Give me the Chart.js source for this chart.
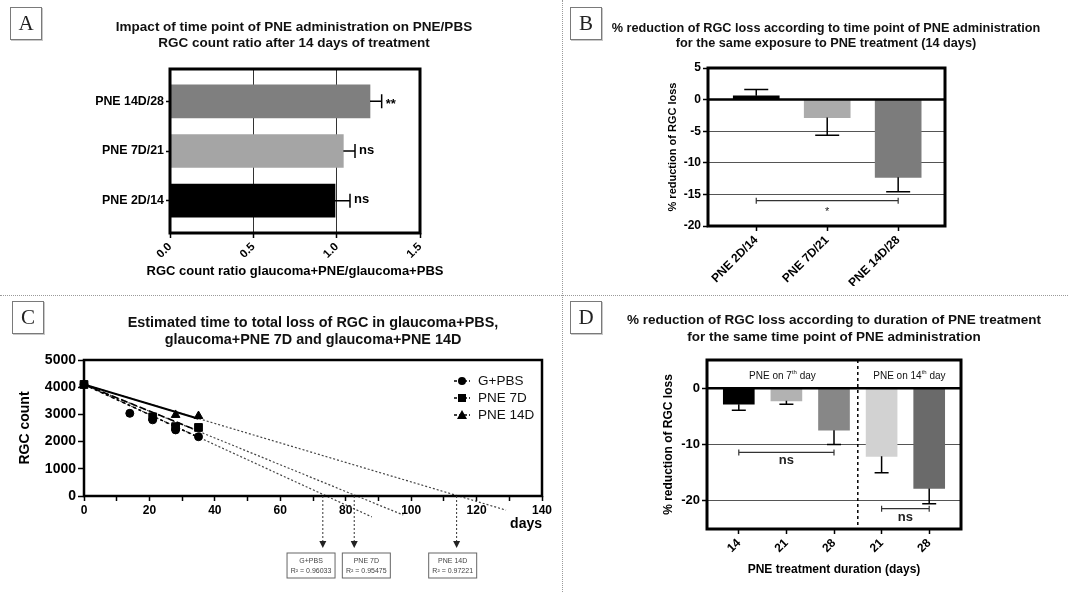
<!DOCTYPE html>
<html>
<head>
<meta charset="utf-8">
<script src="https://cdn.jsdelivr.net/npm/chart.js@4.4.1/dist/chart.umd.min.js"></script>
<style>
  html, body { margin: 0; padding: 0; background: #fff; }
  body { width: 1068px; height: 592px; position: relative; overflow: hidden; font-family: Arial, "Liberation Sans", sans-serif; }
  canvas { position: absolute; }
  .tag { position: absolute; width: 30px; height: 31px; border: 1px solid #7a7a7a; box-shadow: 1px 1px 0 #c8c8c8;
         font-family: "Times New Roman", "Liberation Serif", serif; font-size: 21px; line-height: 31px; text-align: center; color: #222; background: #fff; }
  .title { position: absolute; text-align: center; font-weight: bold; font-size: 12px; line-height: 16px; color: #111; white-space: nowrap; }
  .vsep { position: absolute; left: 562px; top: 0; height: 592px; border-left: 1px dotted #9a9a9a; }
  .hsep { position: absolute; left: 0; top: 295px; width: 1068px; border-top: 1px dotted #9a9a9a; }
</style>
</head>
<body>
<div class="vsep"></div>
<div class="hsep"></div>

<canvas id="chartA" width="562" height="294" style="left:0;top:0;width:562px;height:294px"></canvas>
<canvas id="chartB" width="505" height="294" style="left:563px;top:0;width:505px;height:294px"></canvas>
<canvas id="chartC" width="562" height="296" style="left:0;top:296px;width:562px;height:296px"></canvas>
<canvas id="chartD" width="505" height="296" style="left:563px;top:296px;width:505px;height:296px"></canvas>

<div class="tag" style="left:10px;top:7px">A</div>
<div class="tag" style="left:570px;top:7px">B</div>
<div class="tag" style="left:12px;top:301px">C</div>
<div class="tag" style="left:570px;top:301px">D</div>

<div class="title" style="left:34px;top:19px;width:520px;font-size:13.5px">Impact of time point of PNE administration on PNE/PBS<br>RGC count ratio after 14 days of treatment</div>
<div class="title" style="left:576px;top:21px;width:500px;font-size:12.7px;line-height:15px">% reduction of RGC loss according to time point of PNE administration<br>for the same exposure to PNE treatment (14 days)</div>
<div class="title" style="left:53px;top:314px;width:520px;font-size:14.4px;line-height:17px">Estimated time to total loss of RGC in glaucoma+PBS,<br>glaucoma+PNE 7D and glaucoma+PNE 14D</div>
<div class="title" style="left:589px;top:311px;width:490px;font-size:13.5px;line-height:17px">% reduction of RGC loss according to duration of PNE treatment<br>for the same time point of PNE administration</div>
<div class="title" style="left:95px;top:263px;width:400px;font-size:13px;color:#000">RGC count ratio glaucoma+PNE/glaucoma+PBS</div>

<script>
// ---- panel A: PNE/PBS ratio ----
const aCategories = ['PNE 14D/28', 'PNE 7D/21', 'PNE 2D/14'];
const aRatio = [1.20, 1.04, 0.99];
const aSem = [0.07, 0.07, 0.09];
const aSignif = ['**', 'ns', 'ns'];
const aColors = ['#7f7f7f', '#a5a5a5', '#000000'];
const aTicks = [0, 0.5, 1.0, 1.5];

// ---- panel B: reduction by time point ----
const bCategories = ['PNE 2D/14', 'PNE 7D/21', 'PNE 14D/28'];
const bReduction = [0.6, -2.85, -12.3];
const bSem = [1.0, 2.8, 2.3];
const bColors = ['#000000', '#ababab', '#7c7c7c'];
const bBracketFrom = [1];
const bBracketTo = [3];
const bBracketY = [-16];
const bBracketLabelY = [-17.3];
const bBracketLabel = ['*'];

// ---- panel C: RGC count over time ----
const gpbsDays = [0, 14, 21, 28, 35];
const gpbsCount = [4100, 3040, 2800, 2430, 2180];
const pne7Days = [0, 21, 28, 35];
const pne7Count = [4100, 2910, 2550, 2520];
const pne14Days = [0, 28, 35];
const pne14Count = [4100, 2980, 2940];
const fitDays = [0, 35];
const gpbsFit = [4100, 2160];
const pne7Fit = [4100, 2390];
const pne14Fit = [4100, 2840];
const gpbsExtDays = [0, 88];
const gpbsExt = [4100, -770];
const pne7ExtDays = [0, 97.6];
const pne7Ext = [4100, -700];
const pne14ExtDays = [0, 129];
const pne14Ext = [4100, -520];
const fitNames = ['G+PBS', 'PNE 7D', 'PNE 14D'];
const fitR2 = ['0.96033', '0.95475', '0.97221'];
const zeroDays = [73.0, 82.6, 113.9];
const boxDays = [69.4, 86.3, 112.7];

// ---- panel D: reduction by treatment duration ----
const dCategories = ['14', '21', '28', '21', '28'];
const dReduction = [-2.85, -2.25, -7.45, -12.1, -17.8];
const dSem = [1.05, 0.6, 2.55, 2.9, 2.7];
const dColors = ['#000000', '#b2b2b2', '#878787', '#d2d2d2', '#6a6a6a'];
const dGroupDay = ['7', '14'];
const dDivider = 3.5;
const dGroupLabelY = 2.1;
const dBracketFrom = [1, 4];
const dBracketTo = [3, 5];
const dBracketY = [-11.4, -21.4];
const dBracketLabelY = [-12.9, -23.0];

Chart.defaults.font.family = 'Arial, "Liberation Sans", sans-serif';
Chart.defaults.color = '#000';

const boldFont = size => ({ size: size, weight: 'bold' });
const none = 'rgba(0,0,0,0)';

function drawFrame(chart, width) {
  const { ctx, chartArea: a } = chart;
  ctx.save();
  ctx.strokeStyle = '#000';
  ctx.lineWidth = width;
  ctx.strokeRect(a.left, a.top, a.right - a.left, a.bottom - a.top);
  ctx.restore();
}

function drawZeroLine(chart) {
  const { ctx, chartArea: a } = chart;
  const y = chart.scales.y.getPixelForValue(0);
  ctx.save();
  ctx.strokeStyle = '#000';
  ctx.lineWidth = 2.5;
  ctx.beginPath();
  ctx.moveTo(a.left, y);
  ctx.lineTo(a.right, y);
  ctx.stroke();
  ctx.restore();
}

// error bar goes away from zero, with a cap at the end
function drawErrorBars(chart, values, errors, cap) {
  const ctx = chart.ctx;
  const horiz = chart.options.indexAxis === 'y';
  const vs = horiz ? chart.scales.x : chart.scales.y;
  const bars = chart.getDatasetMeta(0).data;
  ctx.save();
  ctx.strokeStyle = '#000';
  ctx.lineWidth = 1.5;
  bars.forEach((bar, i) => {
    const v = values[i];
    const end = v + (v < 0 ? -errors[i] : errors[i]);
    const p0 = vs.getPixelForValue(v);
    const p1 = vs.getPixelForValue(end);
    ctx.beginPath();
    if (horiz) {
      ctx.moveTo(p0, bar.y); ctx.lineTo(p1, bar.y);
      ctx.moveTo(p1, bar.y - cap / 2); ctx.lineTo(p1, bar.y + cap / 2);
    } else {
      ctx.moveTo(bar.x, p0); ctx.lineTo(bar.x, p1);
      ctx.moveTo(bar.x - cap / 2, p1); ctx.lineTo(bar.x + cap / 2, p1);
    }
    ctx.stroke();
  });
  ctx.restore();
}

function drawBracket(ctx, x1, x2, y) {
  ctx.save();
  ctx.strokeStyle = '#333';
  ctx.lineWidth = 1.2;
  ctx.beginPath();
  ctx.moveTo(x1, y - 3); ctx.lineTo(x1, y + 3);
  ctx.moveTo(x1, y); ctx.lineTo(x2, y);
  ctx.moveTo(x2, y - 3); ctx.lineTo(x2, y + 3);
  ctx.stroke();
  ctx.restore();
}

function fixedTicks(values) {
  return scale => { scale.ticks = values.map(v => ({ value: v })); };
}

// ================= A =================
new Chart(document.getElementById('chartA'), {
  type: 'bar',
  data: {
    datasets: [{
      data: aRatio.map((v, i) => ({ x: v, y: i + 1 })),
      backgroundColor: aColors,
      barThickness: 33
    }]
  },
  options: {
    indexAxis: 'y',
    responsive: false,
    animation: false,
    layout: { padding: { left: 0, right: 142, top: 69, bottom: 12 } },
    plugins: { legend: { display: false }, tooltip: { enabled: false } },
    scales: {
      x: {
        type: 'linear', min: 0, max: 1.5,
        afterBuildTicks: fixedTicks(aTicks),
        afterFit: s => { s.height = 49; },
        border: { display: false },
        grid: {
          color: c => (c.tick && c.tick.value > 0 && c.tick.value < 1.5) ? '#333' : none,
          tickColor: '#000', tickWidth: 1.5, tickLength: 5
        },
        ticks: { callback: v => v.toFixed(1), minRotation: 45, maxRotation: 45, autoSkip: false, font: boldFont(11.5), padding: 2 }
      },
      y: {
        type: 'linear', reverse: true, min: 0.35, max: 3.65, offset: false,
        afterBuildTicks: fixedTicks(aCategories.map((_, i) => i + 1)),
        afterFit: s => { s.width = 170; },
        border: { display: false },
        grid: { drawOnChartArea: false, offset: false, tickColor: '#000', tickWidth: 1.5, tickLength: 4 },
        ticks: { callback: (v, i) => aCategories[i], autoSkip: false, font: boldFont(12.4), padding: 2 }
      }
    }
  },
  plugins: [{
    id: 'panelA',
    afterDatasetsDraw(chart) {
      drawErrorBars(chart, aRatio, aSem, 14);
      const ctx = chart.ctx;
      const xs = chart.scales.x;
      const bars = chart.getDatasetMeta(0).data;
      ctx.save();
      ctx.fillStyle = '#000';
      ctx.font = 'bold 13px Arial, "Liberation Sans", sans-serif';
      ctx.textBaseline = 'middle';
      bars.forEach((bar, i) => {
        const x = xs.getPixelForValue(aRatio[i] + aSem[i]) + 4;
        ctx.fillText(aSignif[i], x, bar.y + (aSignif[i] === '**' ? 3 : -1));
      });
      ctx.restore();
      drawFrame(chart, 3);
    }
  }]
});

// ================= B =================
new Chart(document.getElementById('chartB'), {
  type: 'bar',
  data: {
    datasets: [{
      data: bReduction.map((v, i) => ({ x: i + 1, y: v })),
      backgroundColor: bColors,
      barThickness: 46
    }]
  },
  options: {
    responsive: false,
    animation: false,
    layout: { padding: { left: 99, right: 123, top: 68, bottom: 8 } },
    plugins: { legend: { display: false }, tooltip: { enabled: false } },
    scales: {
      x: {
        type: 'linear', min: 0.32, max: 3.66, offset: false,
        afterBuildTicks: fixedTicks(bCategories.map((_, i) => i + 1)),
        afterFit: s => { s.height = 60; },
        border: { display: false },
        grid: { drawOnChartArea: false, offset: false, tickColor: '#000', tickWidth: 1.5, tickLength: 5 },
        ticks: { callback: (v, i) => bCategories[i], minRotation: 45, maxRotation: 45, autoSkip: false, font: boldFont(12), padding: 2 },
      },
      y: {
        min: -20, max: 5,
        afterFit: s => { s.width = 46; },
        border: { display: false },
        grid: {
          color: c => (c.tick && c.tick.value < 0 && c.tick.value > -20) ? '#555' : none,
          tickColor: '#000', tickWidth: 1.5, tickLength: 5
        },
        ticks: { stepSize: 5, font: boldFont(12), padding: 2 },
        title: { display: true, text: '% reduction of RGC loss', font: boldFont(11) }
      }
    }
  },
  plugins: [{
    id: 'panelB',
    afterDatasetsDraw(chart) {
      drawZeroLine(chart);
      drawErrorBars(chart, bReduction, bSem, 24);
      const ctx = chart.ctx;
      const xs = chart.scales.x, ys = chart.scales.y;
      bBracketFrom.forEach((from, i) => {
        const x1 = xs.getPixelForValue(from), x2 = xs.getPixelForValue(bBracketTo[i]);
        drawBracket(ctx, x1, x2, ys.getPixelForValue(bBracketY[i]));
        ctx.save();
        ctx.fillStyle = '#222';
        ctx.font = '11px Arial, "Liberation Sans", sans-serif';
        ctx.textAlign = 'center';
        ctx.textBaseline = 'middle';
        ctx.fillText(bBracketLabel[i], (x1 + x2) / 2, ys.getPixelForValue(bBracketLabelY[i]) + 3);
        ctx.restore();
      });
      drawFrame(chart, 3);
    }
  }]
});

// ================= C =================
const toPoints = (xs, ys) => xs.map((x, i) => ({ x: x, y: ys[i] }));
const markerStyles = ['circle', 'rect', 'triangle'];

new Chart(document.getElementById('chartC'), {
  type: 'scatter',
  data: {
    datasets: [
      { label: fitNames[0], data: toPoints(gpbsDays, gpbsCount), pointStyle: 'circle', pointRadius: 4, backgroundColor: '#000', borderColor: '#000', clip: false },
      { label: fitNames[1], data: toPoints(pne7Days, pne7Count), pointStyle: 'rect', pointRadius: 5.5, backgroundColor: '#000', borderColor: '#000', clip: false },
      { label: fitNames[2], data: toPoints(pne14Days, pne14Count), pointStyle: 'triangle', pointRadius: 5, backgroundColor: '#000', borderColor: '#000', clip: false },
      { data: toPoints(fitDays, gpbsFit), showLine: true, pointRadius: 0, borderColor: '#000', borderWidth: 1.6, borderDash: [3, 3] },
      { data: toPoints(fitDays, pne7Fit), showLine: true, pointRadius: 0, borderColor: '#000', borderWidth: 1.6, borderDash: [7, 3] },
      { data: toPoints(fitDays, pne14Fit), showLine: true, pointRadius: 0, borderColor: '#000', borderWidth: 2 },
      { data: toPoints(gpbsExtDays, gpbsExt), showLine: true, pointRadius: 0, borderColor: '#444', borderWidth: 1.2, borderDash: [2, 2], clip: false },
      { data: toPoints(pne7ExtDays, pne7Ext), showLine: true, pointRadius: 0, borderColor: '#444', borderWidth: 1.2, borderDash: [2, 2], clip: false },
      { data: toPoints(pne14ExtDays, pne14Ext), showLine: true, pointRadius: 0, borderColor: '#444', borderWidth: 1.2, borderDash: [2, 2], clip: false }
    ]
  },
  options: {
    responsive: false,
    animation: false,
    layout: { padding: { left: 13, right: 20, top: 64, bottom: 55 } },
    plugins: { legend: { display: false }, tooltip: { enabled: false } },
    scales: {
      x: {
        type: 'linear', min: 0, max: 140,
        afterFit: s => { s.height = 41; },
        border: { display: false },
        grid: { drawOnChartArea: false, tickColor: '#000', tickWidth: 1.5, tickLength: 5 },
        ticks: { stepSize: 10, callback: v => (v % 20 === 0 ? String(v) : ''), autoSkip: false, maxRotation: 0, font: boldFont(12), padding: 2 },
        title: { display: true, text: 'days', align: 'end', font: boldFont(14), padding: { top: 2, bottom: 4 } }
      },
      y: {
        min: 0, max: 5000,
        afterFit: s => { s.width = 71; },
        border: { display: false },
        grid: { drawOnChartArea: false, tickColor: '#000', tickWidth: 1.5, tickLength: 6 },
        ticks: { stepSize: 1000, callback: v => String(v), font: boldFont(14), padding: 2 },
        title: { display: true, text: 'RGC count', font: boldFont(14) }
      }
    }
  },
  plugins: [{
    id: 'panelC',
    afterDatasetsDraw(chart) {
      const { ctx, chartArea: a } = chart;
      const xs = chart.scales.x, ys = chart.scales.y;
      drawFrame(chart, 2.5);

      // legend inside the plot, top right
      ctx.save();
      fitNames.forEach((name, i) => {
        const y = a.top + 21 + i * 17;
        const mx = a.right - 80;
        ctx.strokeStyle = '#000';
        ctx.lineWidth = 1.5;
        ctx.setLineDash([3, 2]);
        ctx.beginPath();
        ctx.moveTo(mx - 8, y); ctx.lineTo(mx + 8, y);
        ctx.stroke();
        ctx.setLineDash([]);
        ctx.fillStyle = '#000';
        ctx.beginPath();
        if (markerStyles[i] === 'circle') {
          ctx.arc(mx, y, 4, 0, Math.PI * 2);
        } else if (markerStyles[i] === 'rect') {
          ctx.rect(mx - 4, y - 4, 8, 8);
        } else {
          ctx.moveTo(mx, y - 5); ctx.lineTo(mx + 5, y + 4); ctx.lineTo(mx - 5, y + 4); ctx.closePath();
        }
        ctx.fill();
        ctx.font = '13.5px Arial, "Liberation Sans", sans-serif';
        ctx.textBaseline = 'middle';
        ctx.fillStyle = '#111';
        ctx.fillText(name, a.right - 64, y);
      });
      ctx.restore();

      // arrows from the x-intercepts down to the boxes
      ctx.save();
      const y0 = ys.getPixelForValue(0);
      const tip = a.bottom + 52;
      zeroDays.forEach((d, i) => {
        const x = xs.getPixelForValue(d);
        ctx.strokeStyle = '#333';
        ctx.lineWidth = 1;
        ctx.setLineDash([2, 2]);
        ctx.beginPath();
        ctx.moveTo(x, y0); ctx.lineTo(x, tip - 6);
        ctx.stroke();
        ctx.setLineDash([]);
        ctx.fillStyle = '#222';
        ctx.beginPath();
        ctx.moveTo(x - 3.5, tip - 7); ctx.lineTo(x + 3.5, tip - 7); ctx.lineTo(x, tip); ctx.closePath();
        ctx.fill();

        const bx = xs.getPixelForValue(boxDays[i]);
        const top = a.bottom + 57;
        ctx.strokeStyle = '#666';
        ctx.lineWidth = 1;
        ctx.strokeRect(bx - 24, top, 48, 25);
        ctx.fillStyle = '#444';
        ctx.font = '7px Arial, "Liberation Sans", sans-serif';
        ctx.textAlign = 'center';
        ctx.textBaseline = 'middle';
        ctx.fillText(fitNames[i], bx, top + 8);
        ctx.fillText('R\u00b2 = ' + fitR2[i], bx, top + 18);
      });
      ctx.restore();
    }
  }]
});

// ================= D =================
new Chart(document.getElementById('chartD'), {
  type: 'bar',
  data: {
    datasets: [{
      data: dReduction.map((v, i) => ({ x: i + 1, y: v })),
      backgroundColor: dColors,
      barThickness: 31
    }]
  },
  options: {
    responsive: false,
    animation: false,
    layout: { padding: { left: 94, right: 107, top: 64, bottom: 11 } },
    plugins: { legend: { display: false }, tooltip: { enabled: false } },
    scales: {
      x: {
        type: 'linear', min: 0.332, max: 5.668, offset: false,
        afterBuildTicks: fixedTicks(dCategories.map((_, i) => i + 1)),
        afterFit: s => { s.height = 52; },
        border: { display: false },
        grid: { drawOnChartArea: false, offset: false, tickColor: '#000', tickWidth: 1.5, tickLength: 5 },
        ticks: { callback: (v, i) => dCategories[i], minRotation: 45, maxRotation: 45, autoSkip: false, font: boldFont(12), padding: 2 },
        title: { display: true, text: 'PNE treatment duration (days)', font: boldFont(12) }
      },
      y: {
        min: -25, max: 5,
        afterBuildTicks: fixedTicks([-20, -10, 0]),
        afterFit: s => { s.width = 50; },
        border: { display: false },
        grid: {
          color: c => (c.tick && c.tick.value < 0) ? '#555' : none,
          tickColor: '#000', tickWidth: 1.5, tickLength: 5
        },
        ticks: { font: boldFont(13), padding: 2 },
        title: { display: true, text: '% reduction of RGC loss', font: boldFont(12) }
      }
    }
  },
  plugins: [{
    id: 'panelD',
    afterDatasetsDraw(chart) {
      const { ctx, chartArea: a } = chart;
      const xs = chart.scales.x, ys = chart.scales.y;
      drawZeroLine(chart);
      drawErrorBars(chart, dReduction, dSem, 14);

      // dotted divider between the two administration days
      const xd = xs.getPixelForValue(dDivider);
      ctx.save();
      ctx.strokeStyle = '#000';
      ctx.lineWidth = 1.5;
      ctx.setLineDash([3, 3]);
      ctx.beginPath();
      ctx.moveTo(xd, a.top); ctx.lineTo(xd, a.bottom);
      ctx.stroke();
      ctx.restore();

      // group labels with superscript "th"
      const ly = ys.getPixelForValue(dGroupLabelY);
      const centers = [(a.left + xd) / 2, (xd + a.right) / 2];
      ctx.save();
      ctx.fillStyle = '#111';
      ctx.textBaseline = 'middle';
      ctx.textAlign = 'left';
      const big = '10px Arial, "Liberation Sans", sans-serif';
      const small = '6px Arial, "Liberation Sans", sans-serif';
      dGroupDay.forEach((day, i) => {
        const base = 'PNE on ' + day, sup = 'th', rest = ' day';
        ctx.font = big;
        const w1 = ctx.measureText(base).width, w3 = ctx.measureText(rest).width;
        ctx.font = small;
        const w2 = ctx.measureText(sup).width;
        let x = centers[i] - (w1 + w2 + w3) / 2;
        ctx.font = big; ctx.fillText(base, x, ly); x += w1;
        ctx.font = small; ctx.fillText(sup, x, ly - 3.5); x += w2;
        ctx.font = big; ctx.fillText(rest, x, ly);
      });
      ctx.restore();

      // significance brackets
      dBracketFrom.forEach((from, i) => {
        const x1 = xs.getPixelForValue(from), x2 = xs.getPixelForValue(dBracketTo[i]);
        drawBracket(ctx, x1, x2, ys.getPixelForValue(dBracketY[i]));
        ctx.save();
        ctx.fillStyle = '#222';
        ctx.font = 'bold 13px Arial, "Liberation Sans", sans-serif';
        ctx.textAlign = 'center';
        ctx.textBaseline = 'middle';
        ctx.fillText('ns', (x1 + x2) / 2, ys.getPixelForValue(dBracketLabelY[i]));
        ctx.restore();
      });
      drawFrame(chart, 3);
    }
  }]
});
</script>
</body>
</html>
